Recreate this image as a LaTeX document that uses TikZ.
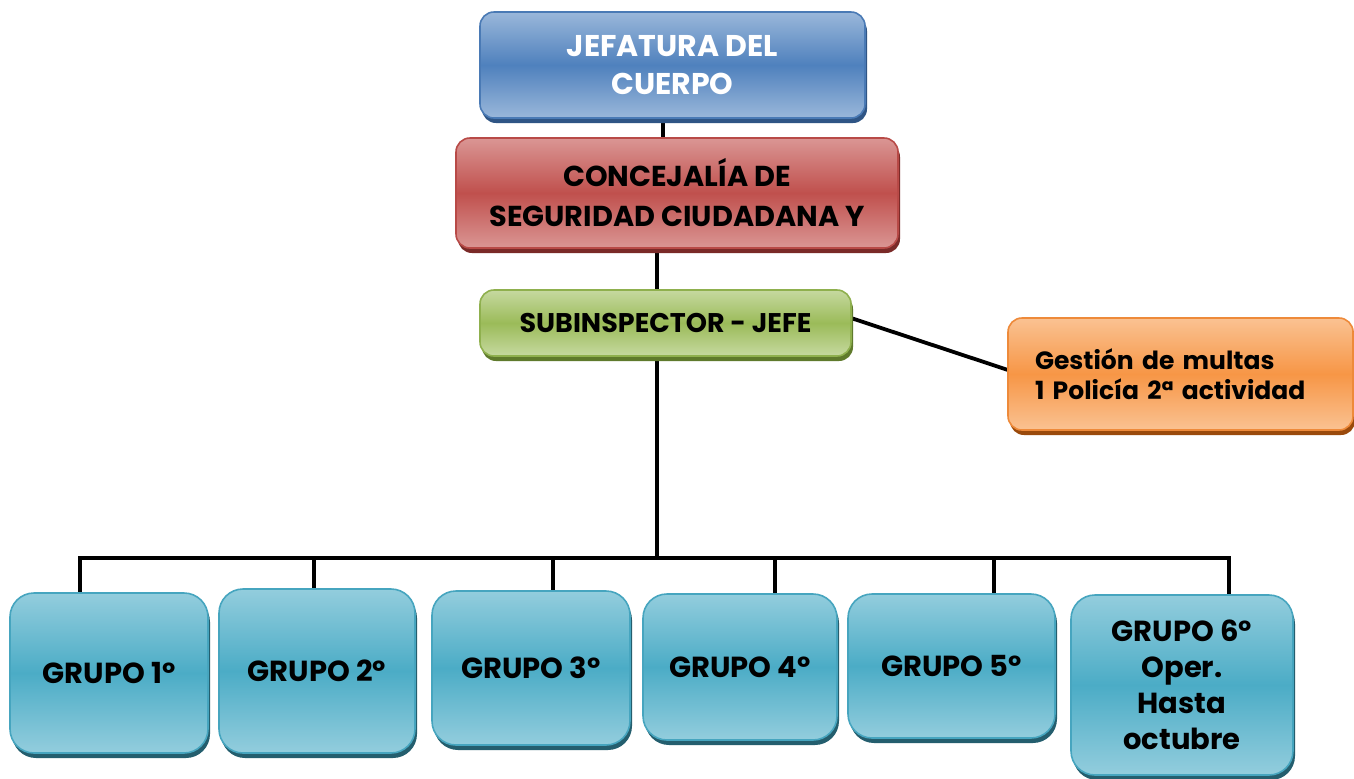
\documentclass[tikz,border=0pt]{standalone}
\usepackage{fontspec}
\setmainfont{Poppins}
\usetikzlibrary{shadows,backgrounds}
\definecolor{bluetop}{HTML}{9AB7DA}
\definecolor{bluemid}{HTML}{4F81BD}
\definecolor{blueedge}{HTML}{4A7AB5}
\definecolor{blueshadow}{HTML}{2F5585}
\definecolor{redtop}{HTML}{DA9694}
\definecolor{redmid}{HTML}{C0504D}
\definecolor{rededge}{HTML}{B84A47}
\definecolor{redshadow}{HTML}{7A2A28}
\definecolor{greentop}{HTML}{C6D9A0}
\definecolor{greenmid}{HTML}{9BBB59}
\definecolor{greenedge}{HTML}{8FB04E}
\definecolor{greenshadow}{HTML}{5F7A2C}
\definecolor{orangetop}{HTML}{FAC292}
\definecolor{orangemid}{HTML}{F79646}
\definecolor{orangeedge}{HTML}{EE8A3A}
\definecolor{orangeshadow}{HTML}{9A4A0C}
\definecolor{tealtop}{HTML}{93CDDD}
\definecolor{tealmid}{HTML}{4BACC6}
\definecolor{tealedge}{HTML}{46A5BF}
\definecolor{tealshadow}{HTML}{245E6E}
\tikzset{
  box/.style={rectangle, rounded corners=7pt, inner sep=0pt, line width=0.8pt,
    align=center, font=\bfseries\fontsize{14}{19}\selectfont},
  bluebox/.style={box, draw=blueedge, top color=bluetop, bottom color=bluetop, middle color=bluemid,
    general shadow={fill=blueshadow, shadow xshift=1pt, shadow yshift=-2.5pt}, text=white,
    font=\bfseries\fontsize{15}{19}\selectfont},
  redbox/.style={box, draw=rededge, top color=redtop, bottom color=redtop, middle color=redmid,
    general shadow={fill=redshadow, shadow xshift=1pt, shadow yshift=-2.5pt},
    font=\bfseries\fontsize{14.4}{20}\selectfont},
  greenbox/.style={box, draw=greenedge, top color=greentop, bottom color=greentop, middle color=greenmid,
    general shadow={fill=greenshadow, shadow xshift=1pt, shadow yshift=-2.5pt},
    font=\bfseries\fontsize{13.5}{18}\selectfont},
  orangebox/.style={box, draw=orangeedge, top color=orangetop, bottom color=orangetop, middle color=orangemid,
    general shadow={fill=orangeshadow, shadow xshift=1pt, shadow yshift=-2.5pt},
    align=left, font=\bfseries\fontsize{12.5}{15}\selectfont},
  groupbox/.style={box, rounded corners=12pt, draw=tealedge, top color=tealtop, bottom color=tealtop, middle color=tealmid,
    general shadow={fill=tealshadow, shadow xshift=1pt, shadow yshift=-2.5pt},
    font=\bfseries\fontsize{14.5}{18}\selectfont},
  conn/.style={line width=1.9pt, black},
}
\begin{document}
\begin{tikzpicture}[x=0.5pt, y=-0.5pt]
\useasboundingbox (0,0) rectangle (1354,778);
% top boxes
\node[bluebox, minimum width=192.5pt, minimum height=53pt] (jef) at (672.5,65) {JEFATURA DEL\\CUERPO};
\node[redbox, minimum width=221pt, minimum height=55pt] (conc) at (677,193) {CONCEJALÍA DE\\SEGURIDAD CIUDADANA Y};
\node[greenbox, minimum width=185.5pt, minimum height=33pt] (sub) at (665.5,323) {SUBINSPECTOR - JEFE};
\node[orangebox, minimum width=172.5pt, minimum height=56pt, text width=145.5pt, inner xsep=13.5pt] (org) at (1180.5,374) {Gestión de multas\\1 Policía 2ª actividad};
% groups
\node[groupbox, minimum width=99pt, minimum height=80pt] (g1) at (109,673) {GRUPO 1º};
\node[groupbox, minimum width=98pt, minimum height=82pt] (g2) at (317,671) {GRUPO 2º};
\node[groupbox, minimum width=99pt, minimum height=77pt] (g3) at (531,668) {GRUPO 3º};
\node[groupbox, minimum width=97pt, minimum height=73pt] (g4) at (740,667) {GRUPO 4º};
\node[groupbox, minimum width=103.5pt, minimum height=72pt] (g5) at (951.5,666) {GRUPO 5º};
\node[groupbox, minimum width=111pt, minimum height=90pt] (g6) at (1182,685) {GRUPO 6º\\Oper.\\Hasta\\octubre};
% connector coordinates
\coordinate (busL) at (80,558);
\coordinate (busR) at (1229,558);
\coordinate (busM) at (657,558);
\coordinate (subR) at (851,318);
\coordinate (orgL) at (1008,370);
\begin{scope}[on background layer]
\fill[white] (0,0) rectangle (1354,778);
\draw[conn] (jef.south -| 663,0) -- (conc.north -| 663,0);
\draw[conn] (conc.south -| 657,0) -- (sub.north -| 657,0);
\draw[conn] (sub.south -| busM) -- (busM);
\draw[conn] (subR) -- (orgL);
\draw[conn, line cap=rect] (busL) -- (busR);
\draw[conn] (g1.north -| busL) -- (busL);
\draw[conn] (314,558) -- (g2.north -| 314,0);
\draw[conn] (553,558) -- (g3.north -| 553,0);
\draw[conn] (775,558) -- (g4.north -| 775,0);
\draw[conn] (994,558) -- (g5.north -| 994,0);
\draw[conn] (g6.north -| busR) -- (busR);
\end{scope}
\end{tikzpicture}
\end{document}
